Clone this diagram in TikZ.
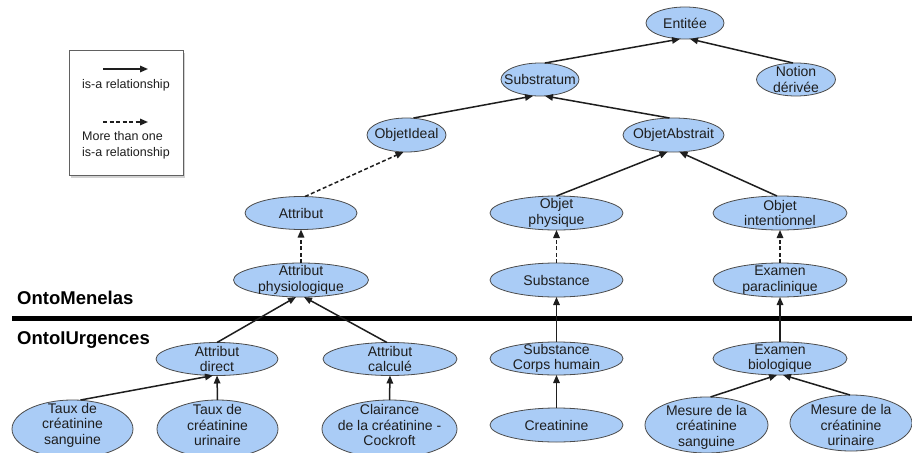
\documentclass[tikz,border=0pt]{standalone}
\usepackage{fontspec}
\setmainfont{Liberation Sans}
\usetikzlibrary{shapes.geometric,arrows.meta,shadows}
\definecolor{ellfill}{RGB}{170,204,246}
\definecolor{ink}{RGB}{30,30,30}
\newcommand{\enode}[7]{%
  \node[ell, minimum width=#4pt, minimum height=#5pt] (#1) at (#2,#3) {};
  \node[lbl] (#1-t) at (#2,#6) {#7};}
\begin{document}
\begin{tikzpicture}[x=1pt,y=-1pt,
  ell/.style={ellipse, draw=ink!80, line width=0.8pt, fill=ellfill, inner sep=0pt, outer sep=0pt},
  lbl/.style={align=center, font=\fontsize{14}{15.5}\selectfont, text=ink, inner sep=0pt},
  isa/.style={line width=1.5pt, draw=ink, -{Triangle[length=8pt,width=6.5pt]}},
  multi/.style={isa, dash pattern=on 4pt off 2.5pt},
  legtxt/.style={align=left, font=\fontsize{12.5}{15.5}\selectfont, text=ink, inner sep=0pt, anchor=west},
  onto/.style={font=\fontsize{18.5}{20}\selectfont\bfseries, text=black, inner sep=0pt, anchor=west}
]
\useasboundingbox (0,0) rectangle (912,452);
\clip (0,0) rectangle (912,452);
\fill[white] (0,0) rectangle (912,452);

% legend
\node[draw=ink!70, fill=white, line width=0.7pt, drop shadow={shadow xshift=1.5pt, shadow yshift=-3pt, opacity=0.35},
      minimum width=114pt, minimum height=125pt, inner sep=0pt] (legend) at (126,112.5) {};
\coordinate (la1) at (103,69); \coordinate (lb1) at (148,69);
\coordinate (la2) at (103,122); \coordinate (lb2) at (148,122);
\draw[isa] (la1) -- (lb1);
\draw[multi] (la2) -- (lb2);
\node[legtxt] (lt1) at (82,85) {is-a relationship};
\node[legtxt] (lt2) at (82,145.5) {More than one\\is-a relationship};

% separator
\coordinate (sepA) at (12,318); \coordinate (sepB) at (912,318);
\draw[line width=5pt, black] (sepA) -- (sepB);
\node[onto] (om) at (17,298) {OntoMenelas};
\node[onto] (ou) at (17,340) {OntoIUrgences};

% nodes
\enode{ent}{685}{23}{78}{32}{23}{Entitée}
\enode{sub}{540}{79.5}{78}{33}{79.5}{Substratum}
\enode{not}{796}{79.5}{79}{33}{79.5}{Notion\\dérivée}
\enode{oid}{406.5}{135}{79}{34}{135}{ObjetIdeal}
\enode{oab}{673.5}{135}{101}{34}{135}{ObjetAbstrait}
\enode{attr}{301}{213}{112}{33}{213}{Attribut}
\enode{ophy}{556.5}{213}{133}{34}{213}{Objet\\physique}
\enode{oint}{780}{213}{134}{34}{213}{Objet\\intentionnel}
\enode{aphy}{301}{280}{135}{34}{280}{Attribut\\physiologique}
\enode{subst}{556.5}{280}{133}{34}{280}{Substance}
\enode{expa}{780}{280}{134}{34}{280}{Examen\\paraclinique}
\enode{adir}{217}{359}{122}{33}{359}{Attribut\\direct}
\enode{acal}{390}{359}{134}{33}{359}{Attribut\\calculé}
\enode{sch}{556.5}{358.5}{133}{33}{358.5}{Substance\\Corps humain}
\enode{exbio}{780}{358.5}{134}{33}{358.5}{Examen\\biologique}
\enode{tsan}{72.5}{429}{121}{58}{425}{Taux de\\créatinine\\sanguine}
\enode{turi}{217.5}{429}{121}{58}{425}{Taux de\\créatinine\\urinaire}
\enode{clair}{389.5}{429}{135}{58}{425}{Clairance\\de la créatinine -\\Cockroft}
\enode{creat}{556.5}{425}{133}{34}{425}{Creatinine}
\enode{msan}{706.5}{425}{123}{56}{427}{Mesure de la\\créatinine\\sanguine}
\enode{muri}{851}{423}{122}{56}{425}{Mesure de la\\créatinine\\urinaire}

% connectors
\draw[isa] ([xshift=5pt]sub.north) -- ([xshift=-5pt]ent.south);
\draw[isa] ([xshift=-3pt]not.north) -- ([xshift=5pt]ent.south);
\draw[isa] ([xshift=7pt]oid.north) -- ([xshift=-7pt]sub.south);
\draw[isa] ([xshift=-4pt]oab.north) -- ([xshift=5pt]sub.south);
\draw[isa] (ophy.north) -- ([xshift=-6pt]oab.south);
\draw[isa] ([xshift=-3pt]oint.north) -- ([xshift=6pt]oab.south);
\draw[multi] ([xshift=4pt]attr.north) -- ([xshift=-3pt]oid.south);
\draw[multi] (aphy.north) -- (attr.south);
\draw[multi] (subst.north) -- (ophy.south);
\draw[multi] (expa.north) -- (oint.south);
\draw[isa] (adir.north) -- ([xshift=-5pt]aphy.south);
\draw[isa] ([xshift=-3pt]acal.north) -- ([xshift=3pt]aphy.south);
\draw[isa] (sch.north) -- (subst.south);
\draw[isa] (exbio.north) -- (expa.south);
\draw[isa] ([xshift=8pt]tsan.north) -- ([xshift=-4pt]adir.south);
\draw[isa] (turi.north) -- (adir.south);
\draw[isa] (clair.north) -- (acal.south);
\draw[isa] (creat.north) -- (sch.south);
\draw[isa] ([xshift=4pt]msan.north) -- ([xshift=-3pt]exbio.south);
\draw[isa] ([xshift=-1pt]muri.north) -- ([xshift=3pt]exbio.south);
\end{tikzpicture}
\end{document}
